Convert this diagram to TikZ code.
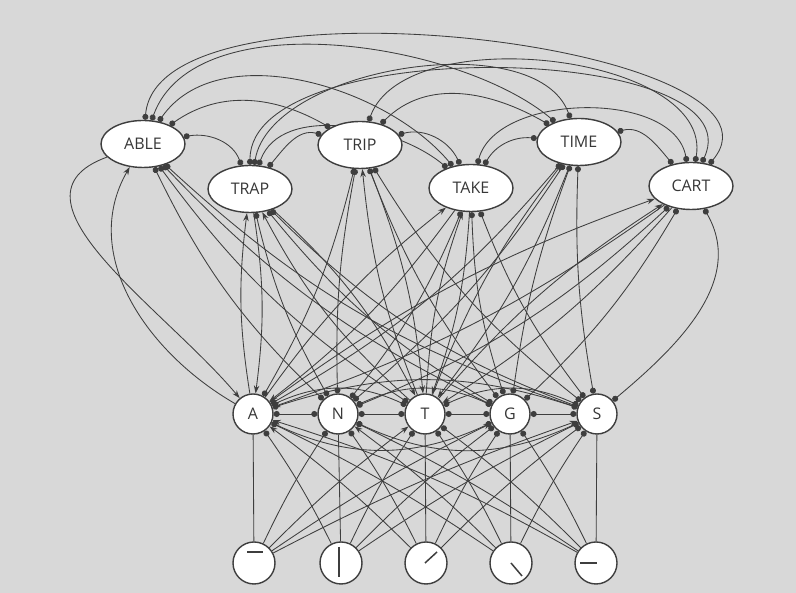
\documentclass[tikz,border=0pt]{standalone}
\usepackage{fontspec}
\setmainfont{Open Sans}
\usetikzlibrary{arrows.meta,shapes.geometric,backgrounds}
\definecolor{bg}{RGB}{216,216,216}
\definecolor{ln}{RGB}{62,62,62}
\definecolor{tx}{RGB}{55,55,55}
\tikzset{
  wordnode/.style={ellipse, draw=ln, fill=white, line width=1.4pt, minimum width=84pt, minimum height=47pt, inner sep=0pt, font=\fontsize{16}{16}\selectfont, text=tx},
  letnode/.style={circle, draw=ln, fill=white, line width=1.4pt, minimum size=40pt, inner sep=0pt, font=\fontsize{16}{16}\selectfont, text=tx},
  featnode/.style={circle, draw=ln, fill=white, line width=1.4pt, minimum size=42pt, inner sep=0pt},
  con/.style={draw=ln, line width=0.85pt},
  exc/.style={con, -{Stealth[length=8pt,width=5.5pt]}},
  inh/.style={con, -{Circle[length=6pt]}},
  inhtwo/.style={con, {Circle[length=6pt]}-{Circle[length=6pt]}},
  glyph/.style={draw=ln, line width=1.5pt}
}
\begin{document}
\begin{tikzpicture}[x=1pt,y=1pt]
\begin{scope}[on background layer]
\fill[bg] (0,0) rectangle (796,593);
\end{scope}
\useasboundingbox (0,0) rectangle (796,593);
% words
\node[wordnode] (ABLE) at (143,449) {ABLE};
\node[wordnode] (TRAP) at (250,404) {TRAP};
\node[wordnode] (TRIP) at (360,448) {TRIP};
\node[wordnode] (TAKE) at (471,405) {TAKE};
\node[wordnode] (TIME) at (579,451) {TIME};
\node[wordnode] (CART) at (691,407) {CART};
% letters
\node[letnode] (A) at (253,179) {A};
\node[letnode] (N) at (338,179) {N};
\node[letnode] (T) at (425,179) {T};
\node[letnode] (G) at (510,179) {G};
\node[letnode] (S) at (597,179) {S};
% features
\node[featnode] (f1) at (254,30) {};
\node[featnode] (f2) at (341,30) {};
\node[featnode] (f3) at (426,30) {};
\node[featnode] (f4) at (511,30) {};
\node[featnode] (f5) at (596,30) {};
\draw[glyph] ([shift={(-7,11)}]f1.center) -- ([shift={(9,11)}]f1.center);
\draw[glyph] ([shift={(-2,16)}]f2.center) -- ([shift={(-2,-14)}]f2.center);
\draw[glyph] ([shift={(-1,0)}]f3.center) -- ([shift={(11,11)}]f3.center);
\draw[glyph] ([shift={(0,0)}]f4.center) -- ([shift={(11,-13)}]f4.center);
\draw[glyph] ([shift={(-16,0)}]f5.center) -- ([shift={(1,0)}]f5.center);
\begin{scope}[on background layer]
% features to letters
\foreach \f/\l in {f1/A,f2/N,f3/T,f4/G,f5/S}{\draw[con] (\f) -- (\l);}
\foreach \f/\l/\b in {f1/T/4,f1/G/4,f1/S/4,f3/A/-4,f4/N/-4,f5/A/-6}{\draw[exc] (\f) to[bend left=\b] (\l);}
\foreach \f/\l/\b in {f1/N/4,f2/A/-4,f2/T/4,f2/G/4,f2/S/4,f3/N/-4,f3/G/4,f3/S/4,f4/A/-4,f4/T/-4,f4/S/4,f5/N/-4,f5/T/-4,f5/G/-4}{\draw[inh] (\f) to[bend left=\b] (\l);}
% letter-letter inhibition
\draw[inhtwo] (A) -- (N);
\draw[inhtwo] (N) -- (T);
\draw[inhtwo] (T) -- (G);
\draw[inhtwo] (G) -- (S);
\draw[inhtwo] (A) to[bend left=25] (T);
\draw[inhtwo] (N) to[bend left=25] (G);
\draw[inhtwo] (T) to[bend left=25] (S);
\draw[inhtwo] (A) to[bend right=25] (G);
\draw[inhtwo] (N) to[bend right=25] (S);
\draw[inhtwo] (A) to[bend left=18] (S);
% letter-word excitation (both directions)
\foreach \l/\w/\b in {A/TRAP/8,T/TRAP/10,T/TRIP/8,A/TAKE/8,T/TAKE/8,T/TIME/8,A/CART/8,T/CART/8}{
  \draw[exc] (\l) to[bend left=\b] (\w);
  \draw[exc] (\w) to[bend left=\b] (\l);
}
\draw[exc] (A) to[out=150,in=240] (ABLE);
\draw[exc] (ABLE) to[out=200,in=130,looseness=1.1] (A);
% letter-word inhibition
\foreach \l/\w/\b in {N/ABLE/10,T/ABLE/10,G/ABLE/10,S/ABLE/12,N/TRAP/8,G/TRAP/10,S/TRAP/12,A/TRIP/-8,N/TRIP/6,G/TRIP/8,S/TRIP/10,N/TAKE/-8,G/TAKE/8,S/TAKE/8,A/TIME/-10,N/TIME/-8,G/TIME/6,S/TIME/6,N/CART/-10,G/CART/-8}{
  \draw[inhtwo] (\l) to[bend left=\b] (\w);
}
\draw[inhtwo] (S) to[out=40,in=300] (CART);
% word-word inhibition
\foreach \a/\b/\o/\i/\lo in {ABLE/TRAP/10/110/1, ABLE/TRIP/35/150/1, ABLE/TAKE/55/130/0.9, ABLE/TIME/70/140/0.8, ABLE/CART/85/50/0.7, TRAP/TRIP/50/165/1, TRAP/TAKE/70/140/0.9, TRAP/TIME/80/110/0.8, TRAP/CART/90/65/0.75, TRIP/TAKE/15/115/1, TRIP/TIME/45/150/1, TRIP/CART/70/80/0.85, TAKE/TIME/60/175/1, TAKE/CART/75/100/0.9, TIME/CART/15/130/1}{
  \draw[inhtwo] (\a) to[out=\o,in=\i,looseness=\lo] (\b);
}
\end{scope}
\end{tikzpicture}
\end{document}
